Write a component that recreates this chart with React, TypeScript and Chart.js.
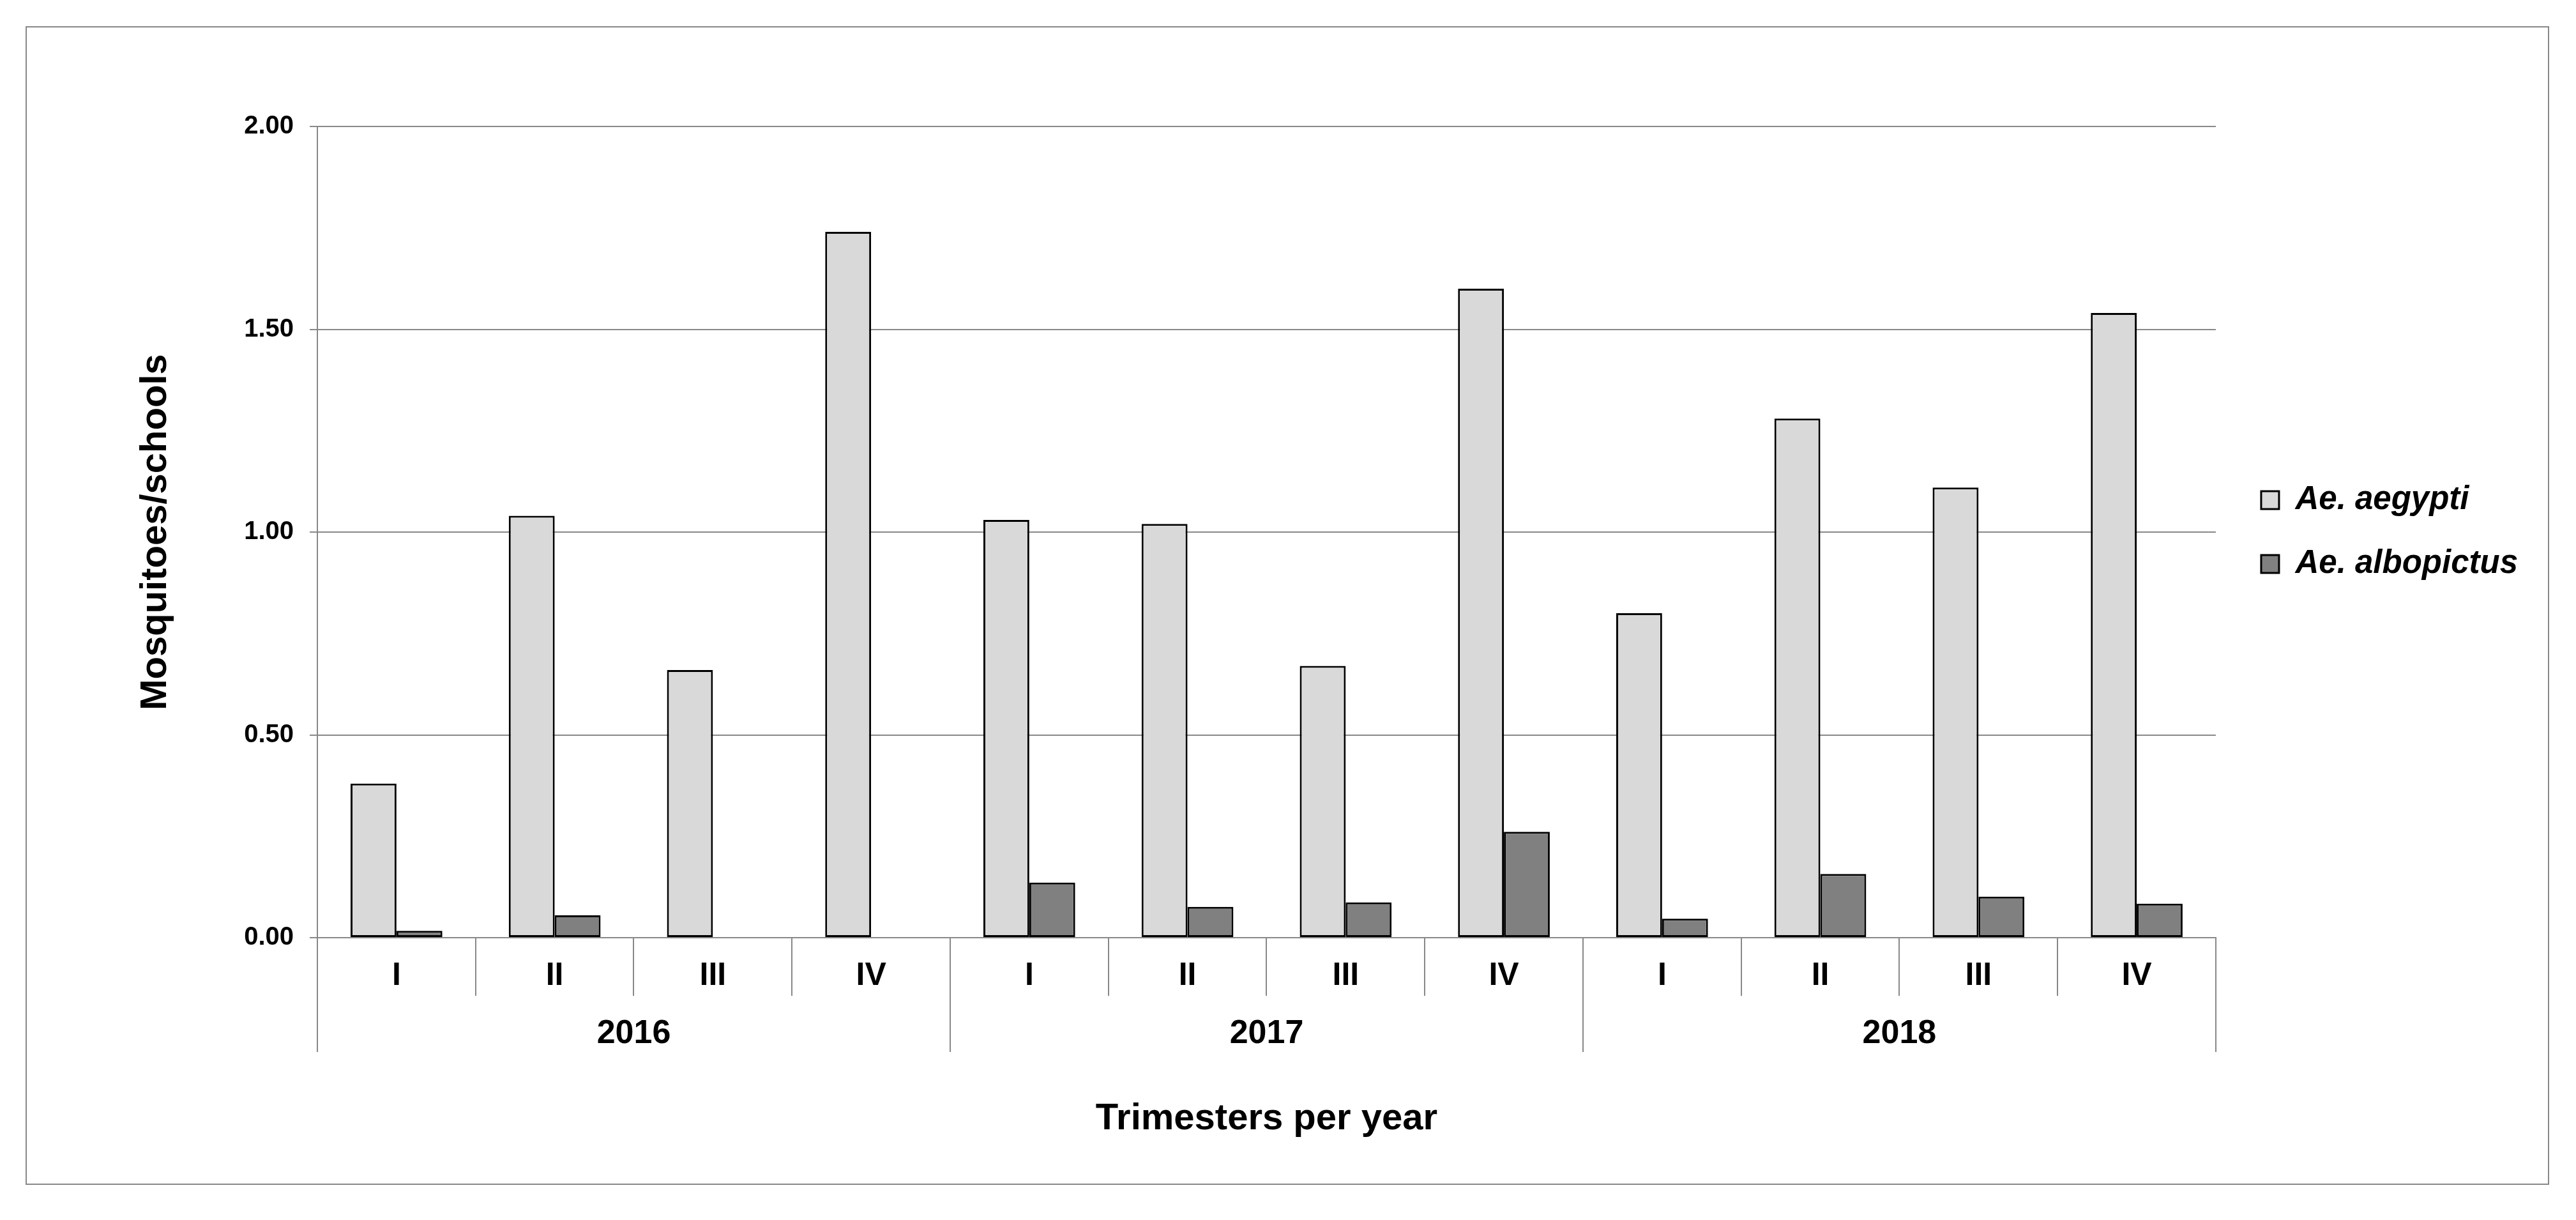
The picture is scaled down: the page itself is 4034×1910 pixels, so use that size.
import React, { useEffect, useRef } from 'react';
import { Chart, registerables } from 'chart.js';

Chart.register(...registerables);

// ---- data ----
const trimesters = ['I', 'II', 'III', 'IV', 'I', 'II', 'III', 'IV', 'I', 'II', 'III', 'IV'];
const years = ['2016', '2017', '2018'];
const seriesNames = ['Ae. aegypti', 'Ae. albopictus'];
const aegypti = [0.38, 1.04, 0.66, 1.74, 1.03, 1.02, 0.67, 1.6, 0.8, 1.28, 1.11, 1.54];
const albopictus = [0.017, 0.055, 0, 0, 0.136, 0.076, 0.087, 0.261, 0.047, 0.157, 0.101, 0.084];
const yTicks = [0, 0.5, 1.0, 1.5, 2.0];
const yTitle = 'Mosquitoes/schools';
const xTitle = 'Trimesters per year';

const FONT = "'Liberation Sans', Arial, Helvetica, sans-serif";
const GRAY = '#888888';

export default function App() {
  const canvasRef = useRef<HTMLCanvasElement | null>(null);

  useEffect(() => {
    document.body.style.margin = '0';
    const canvas = canvasRef.current;
    if (!canvas) return;

    const chart = new Chart(canvas, {
      type: 'bar',
      data: {
        labels: trimesters,
        datasets: [
          {
            label: seriesNames[0],
            data: aegypti,
            backgroundColor: '#d9d9d9',
            borderColor: '#000000',
            borderWidth: 3,
            borderSkipped: false,
            xAxisID: 'x',
            yAxisID: 'y',
            categoryPercentage: 0.58,
            barPercentage: 1.0,
          },
          {
            label: seriesNames[1],
            data: albopictus,
            backgroundColor: '#808080',
            borderColor: '#000000',
            borderWidth: 3,
            borderSkipped: false,
            xAxisID: 'x',
            yAxisID: 'y',
            categoryPercentage: 0.58,
            barPercentage: 1.0,
          },
        ],
      },
      options: {
        animation: false,
        responsive: false,
        devicePixelRatio: 1,
        layout: { padding: { top: 198, left: 0, bottom: 0, right: 81 } },
        plugins: {
          legend: {
            display: true,
            position: 'right',
            fullSize: false,
            align: 'center',
            labels: {
              color: '#000000',
              font: { family: FONT, size: 51, weight: 'bold', style: 'italic' },
              boxWidth: 28,
              boxHeight: 28,
              padding: 49,
            },
          },
          tooltip: { enabled: false },
        },
        scales: {
          x: {
            type: 'category',
            position: 'bottom',
            offset: true,
            grid: {
              display: true,
              offset: true,
              drawOnChartArea: false,
              drawTicks: true,
              tickLength: 91,
              color: GRAY,
              lineWidth: 2,
            },
            border: { display: true, color: GRAY, width: 2 },
            ticks: {
              color: '#000000',
              font: { family: FONT, size: 50, weight: 'bold' },
              padding: -61,
              autoSkip: false,
              maxRotation: 0,
              minRotation: 0,
            },
            afterFit: (s: any) => {
              s.height = 90;
            },
          },
          x2: {
            type: 'category',
            position: 'bottom',
            labels: years,
            offset: true,
            grid: {
              display: true,
              offset: true,
              drawOnChartArea: false,
              drawTicks: true,
              tickLength: 89,
              color: GRAY,
              lineWidth: 2,
            },
            border: { display: false },
            ticks: {
              color: '#000000',
              font: { family: FONT, size: 52, weight: 'bold' },
              padding: -60,
              autoSkip: false,
              maxRotation: 0,
              minRotation: 0,
            },
            title: {
              display: true,
              text: xTitle,
              color: '#000000',
              font: { family: FONT, size: 58, weight: 'bold' },
              padding: { top: 0, bottom: 123 },
            },
            afterFit: (s: any) => {
              s.height = 352;
            },
          },
          y: {
            type: 'linear',
            position: 'left',
            min: 0,
            max: 2,
            grid: {
              display: true,
              drawOnChartArea: true,
              drawTicks: true,
              tickLength: 12,
              color: GRAY,
              lineWidth: 2,
            },
            border: { display: true, color: GRAY, width: 2 },
            ticks: {
              color: '#000000',
              font: { family: FONT, size: 40, weight: 'bold' },
              padding: 25,
              callback: (v: any) => Number(v).toFixed(2),
            },
            afterBuildTicks: (s: any) => {
              s.ticks = yTicks.map((v) => ({ value: v }));
            },
            title: {
              display: true,
              text: yTitle,
              color: '#000000',
              font: { family: FONT, size: 58, weight: 'bold' },
              padding: { top: 209, bottom: 0 },
            },
            afterFit: (s: any) => {
              s.width = 497;
            },
          },
          yR: {
            type: 'linear',
            position: 'right',
            display: true,
            grid: { display: false, drawTicks: false },
            border: { display: false },
            ticks: { display: false },
            afterFit: (s: any) => {
              s.width = 22;
            },
          },
        },
      },
    } as any);

    return () => {
      chart.destroy();
    };
  }, []);

  return (
    <div style={{ position: 'relative', width: 4034, height: 1910, overflow: 'hidden', background: '#ffffff' }}>
      <canvas
        ref={canvasRef}
        width={4034}
        height={1910}
        style={{ position: 'absolute', left: 0, top: 0, width: 4034, height: 1910, display: 'block' }}
      />
      <div
        style={{
          position: 'absolute',
          left: 40,
          top: 41,
          width: 3952,
          height: 1814,
          border: '2px solid #888888',
          boxSizing: 'border-box',
          pointerEvents: 'none',
        }}
      />
    </div>
  );
}
